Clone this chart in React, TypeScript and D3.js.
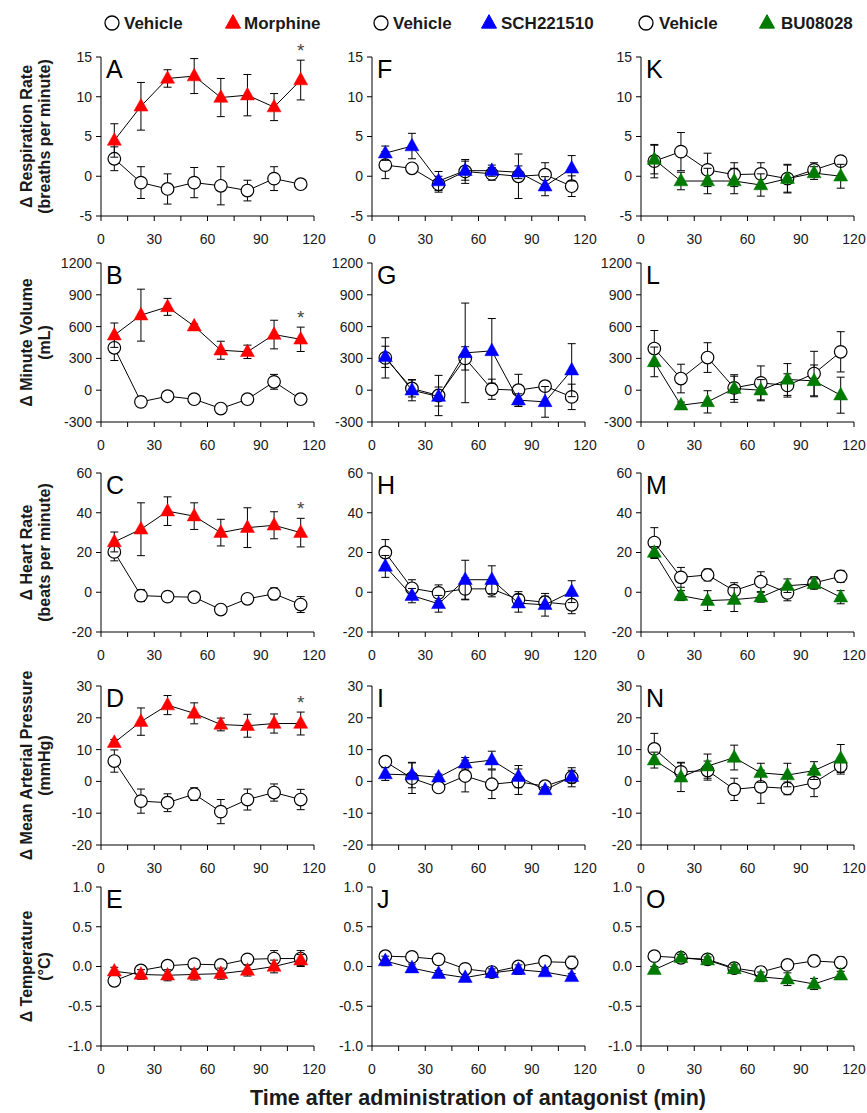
import React from 'react';
import * as d3 from 'd3';

const times = [7.5, 22.5, 37.5, 52.5, 67.5, 82.5, 97.5, 112.5];
const xTickLabels = [0, 30, 60, 90, 120];
const xTickMarks = [0, 15, 30, 45, 60, 75, 90, 105, 120];

// Row 1 – Respiration rate
const vehA = [2.2, -0.8, -1.6, -0.8, -1.2, -1.8, -0.3, -1.0];
const vehAErr = [1.5, 2.0, 1.9, 1.9, 2.4, 1.3, 1.5, 0.3];
const morA = [4.5, 8.8, 12.3, 12.6, 9.9, 10.2, 8.7, 12.1];
const morAErr = [2.1, 3.0, 1.1, 2.2, 2.4, 2.6, 1.7, 2.5];
const vehF = [1.4, 1.0, -1.0, 0.6, 0.3, 0.0, 0.2, -1.25];
const vehFErr = [1.7, 0.3, 1.0, 1.5, 0.8, 2.8, 1.5, 1.3];
const schF = [2.9, 3.8, -0.6, 0.7, 0.7, 0.5, -1.25, 1.0];
const schFErr = [0.9, 1.6, 1.2, 1.2, 0.7, 0.8, 1.2, 1.6];
const vehK = [1.9, 3.1, 0.8, 0.2, 0.3, -0.3, 0.8, 1.9];
const vehKErr = [2.1, 2.4, 2.1, 1.5, 1.4, 1.7, 0.9, 0.3];
const buK = [2.1, -0.6, -0.6, -0.6, -1.1, -0.3, 0.4, 0.0];
const buKErr = [1.8, 1.1, 1.6, 1.6, 1.4, 1.8, 0.8, 1.5];

// Row 2 – Minute volume
const vehB = [400, -110, -57, -85, -173, -85, 79, -85];
const vehBErr = [120, 15, 15, 15, 15, 15, 70, 15];
const morB = [519, 708, 786, 604, 377, 362, 525, 480];
const morBErr = [115, 245, 80, 20, 85, 63, 135, 115];
const vehG = [305, 16, -50, 300, 9, 0, 38, -63];
const vehGErr = [190, 80, 190, 110, 95, 150, 30, 120];
const schG = [315, 0, -60, 352, 371, -94, -110, 189];
const schGErr = [100, 100, 90, 470, 305, 60, 145, 250];
const vehL = [393, 110, 308, 22, 69, 45, 157, 362];
const vehLErr = [170, 135, 140, 110, 160, 110, 210, 190];
const buL = [267, -142, -110, 16, 0, 101, 88, -47];
const buLErr = [140, 30, 105, 130, 100, 150, 150, 170];

// Row 3 – Heart rate
const vehC = [20.3, -1.7, -2.2, -2.5, -8.7, -3.3, -0.8, -6.2];
const vehCErr = [4.5, 3.0, 1.0, 1.0, 1.0, 1.0, 3.0, 4.0];
const morC = [25.3, 31.7, 40.8, 38.3, 30.0, 32.5, 33.7, 30.0];
const morCErr = [5.0, 13.3, 7.2, 6.7, 6.7, 10.0, 6.8, 7.2];
const vehH = [20.0, 2.0, -0.3, 1.7, 1.7, -3.7, -5.0, -6.3];
const vehHErr = [6.5, 4.3, 4.0, 5.5, 4.0, 4.0, 3.0, 4.5];
const schH = [13.0, -1.7, -5.8, 6.3, 6.3, -5.5, -6.3, 0.3];
const schHErr = [5.5, 3.6, 4.2, 9.8, 7.0, 4.5, 5.7, 5.5];
const vehM = [25.0, 7.5, 8.7, 0.8, 5.3, -0.3, 4.7, 8.0];
const vehMErr = [7.5, 5.0, 3.0, 4.0, 5.0, 4.0, 3.0, 3.0];
const buM = [20.0, -1.7, -4.2, -3.7, -2.5, 3.3, 4.2, -2.5];
const buMErr = [3.0, 2.5, 5.0, 6.0, 2.5, 3.4, 2.5, 3.3];

// Row 4 – Mean arterial pressure
const vehD = [6.4, -6.2, -6.7, -4.0, -9.5, -5.7, -3.5, -5.7];
const vehDErr = [3.5, 3.8, 2.8, 2.0, 3.8, 3.3, 2.7, 3.2];
const morD = [12.2, 18.8, 24.0, 21.4, 17.9, 17.5, 18.2, 18.2];
const morDErr = [1.0, 4.3, 3.0, 3.3, 2.0, 3.6, 3.0, 3.6];
const vehI = [6.2, 1.0, -1.9, 1.7, -0.9, -0.1, -1.5, 1.3];
const vehIErr = [1.0, 4.8, 1.0, 5.0, 4.5, 4.0, 1.0, 3.0];
const schI = [2.3, 2.0, 1.3, 5.7, 6.7, 1.5, -2.7, 1.5];
const schIErr = [2.0, 4.0, 1.0, 1.8, 2.8, 3.5, 1.0, 2.0];
const vehN = [10.2, 3.0, 3.4, -2.5, -1.7, -2.2, -0.4, 4.8];
const vehNErr = [4.9, 3.0, 3.0, 3.5, 5.2, 2.0, 4.4, 2.5];
const buN = [6.7, 1.3, 4.8, 7.5, 2.7, 2.0, 3.4, 7.2];
const buNErr = [2.5, 4.5, 3.8, 3.9, 3.0, 3.7, 2.8, 4.4];

// Row 5 – Temperature
const vehE = [-0.18, -0.05, 0.01, 0.03, 0.02, 0.09, 0.1, 0.1];
const vehEErr = [0.06, 0.05, 0.05, 0.05, 0.05, 0.05, 0.1, 0.1];
const morE = [-0.06, -0.1, -0.11, -0.1, -0.09, -0.05, 0.0, 0.08];
const morEErr = [0.05, 0.06, 0.07, 0.07, 0.07, 0.07, 0.08, 0.07];
const vehJ = [0.13, 0.12, 0.09, -0.03, -0.07, 0.0, 0.06, 0.05];
const vehJErr = [0.05, 0.05, 0.05, 0.06, 0.06, 0.06, 0.06, 0.08];
const schJ = [0.07, -0.02, -0.09, -0.14, -0.08, -0.04, -0.07, -0.13];
const schJErr = [0.06, 0.05, 0.04, 0.04, 0.05, 0.06, 0.04, 0.04];
const vehO = [0.13, 0.11, 0.09, -0.02, -0.07, 0.02, 0.07, 0.05];
const vehOErr = [0.04, 0.05, 0.05, 0.06, 0.07, 0.06, 0.07, 0.07];
const buO = [-0.04, 0.11, 0.08, -0.03, -0.13, -0.16, -0.22, -0.11];
const buOErr = [0.04, 0.04, 0.04, 0.05, 0.06, 0.08, 0.07, 0.05];

const rowDomains: [number, number][] = [[-5, 15], [-300, 1200], [-20, 60], [-20, 30], [-1, 1]];
const rowTicks = [
  [-5, 0, 5, 10, 15],
  [-300, 0, 300, 600, 900, 1200],
  [-20, 0, 20, 40, 60],
  [-20, -10, 0, 10, 20, 30],
  [-1, -0.5, 0, 0.5, 1],
];
const rowTickFormat = ['d', 'd', 'd', 'd', '.1f'];
const rowLabels = [
  ['\u0394 Respiration Rate', '(breaths per minute)'],
  ['\u0394 Minute Volume', '(mL)'],
  ['\u0394 Heart Rate', '(beats per minute)'],
  ['\u0394 Mean Arterial Pressure', '(mmHg)'],
  ['\u0394 Temperature', '(\u00B0C)'],
];
const drugNames = ['Morphine', 'SCH221510', 'BU08028'];
const drugColors = ['#ff0000', '#0000ff', '#007a00'];
const letters = [
  ['A', 'F', 'K'],
  ['B', 'G', 'L'],
  ['C', 'H', 'M'],
  ['D', 'I', 'N'],
  ['E', 'J', 'O'],
];
const vehicleData = [
  [vehA, vehF, vehK], [vehB, vehG, vehL], [vehC, vehH, vehM], [vehD, vehI, vehN], [vehE, vehJ, vehO],
];
const vehicleErr = [
  [vehAErr, vehFErr, vehKErr], [vehBErr, vehGErr, vehLErr], [vehCErr, vehHErr, vehMErr], [vehDErr, vehIErr, vehNErr], [vehEErr, vehJErr, vehOErr],
];
const drugData = [
  [morA, schF, buK], [morB, schG, buL], [morC, schH, buM], [morD, schI, buN], [morE, schJ, buO],
];
const drugErr = [
  [morAErr, schFErr, buKErr], [morBErr, schGErr, buLErr], [morCErr, schHErr, buMErr], [morDErr, schIErr, buNErr], [morEErr, schJErr, buOErr],
];
// significance star on last morphine point per row (rows A–D)
const starRows = [true, true, true, true, false];

const W = 867;
const H = 1113;
const rowTop = [57, 263, 473, 686, 887];
const plotH = 159;
const colLeft = [101, 372, 641];
const plotW = 213;
const font = 'Arial, "Liberation Sans", sans-serif';
const textColor = '#1a1a1a';

function triPath(cx: number, cy: number, s: number) {
  const h = s * 0.9;
  return `M${cx},${cy - h * 0.62} L${cx + s / 2},${cy + h * 0.38} L${cx - s / 2},${cy + h * 0.38} Z`;
}

function Panel({ r, c }: { r: number; c: number }) {
  const x = d3.scaleLinear().domain([0, 120]).range([colLeft[c], colLeft[c] + plotW]);
  const y = d3.scaleLinear().domain(rowDomains[r]).range([rowTop[r] + plotH, rowTop[r]]);
  const f = d3.format(rowTickFormat[r]);
  const fmt = (v: number) => f(v).replace('\u2212', '-');
  const line = d3.line<number>().x((_, i) => x(times[i])).y((d) => y(d));
  const veh = vehicleData[r][c];
  const vehE = vehicleErr[r][c];
  const drg = drugData[r][c];
  const drgE = drugErr[r][c];
  const color = drugColors[c];
  const x0 = x(0);
  const yb = y(rowDomains[r][0]);
  const cap = 4;
  const errBars = (vals: number[], errs: number[], key: string) =>
    vals.map((v, i) => {
      const cx = x(times[i]);
      const t = y(v + errs[i]);
      const b = y(v - errs[i]);
      return (
        <g key={key + i} stroke="#000" strokeWidth={1}>
          <line x1={cx} x2={cx} y1={t} y2={b} />
          <line x1={cx - cap} x2={cx + cap} y1={t} y2={t} />
          <line x1={cx - cap} x2={cx + cap} y1={b} y2={b} />
        </g>
      );
    });
  return (
    <g>
      {/* axes */}
      <line x1={x0} x2={x0} y1={rowTop[r]} y2={yb} stroke="#000" strokeWidth={1} />
      <line x1={x0} x2={x(120)} y1={yb} y2={yb} stroke="#000" strokeWidth={1} />
      {rowTicks[r].map((t) => (
        <g key={'yt' + t}>
          <line x1={x0 - 5} x2={x0} y1={y(t)} y2={y(t)} stroke="#000" />
          <text x={x0 - 9} y={y(t)} dy="0.35em" textAnchor="end" fontSize={14} fill={textColor} fontFamily={font}>
            {fmt(t)}
          </text>
        </g>
      ))}
      {xTickMarks.map((t) => (
        <line key={'xm' + t} x1={x(t)} x2={x(t)} y1={yb} y2={yb + 5} stroke="#000" />
      ))}
      {xTickLabels.map((t) => (
        <text key={'xl' + t} x={x(t)} y={yb + 28} textAnchor="middle" fontSize={14} fill={textColor} fontFamily={font}>
          {t}
        </text>
      ))}
      <text x={x0 + 5} y={rowTop[r] + 21} fontSize={25} fill="#000" fontFamily={font}>
        {letters[r][c]}
      </text>
      {/* vehicle */}
      {errBars(veh, vehE, 'v')}
      <path d={line(veh) || ''} fill="none" stroke="#000" strokeWidth={1} />
      {veh.map((v, i) => (
        <circle key={'vc' + i} cx={x(times[i])} cy={y(v)} r={6.3} fill="#fff" stroke="#000" strokeWidth={1.2} />
      ))}
      {/* drug */}
      {errBars(drg, drgE, 'd')}
      <path d={line(drg) || ''} fill="none" stroke="#000" strokeWidth={1} />
      {drg.map((v, i) => (
        <path key={'dt' + i} d={triPath(x(times[i]), y(v), 14)} fill={color} stroke={color} strokeWidth={0.5} />
      ))}
      {c === 0 && starRows[r] && (
        <text
          x={x(times[7])}
          y={y(drg[7] + drgE[7]) - 3}
          textAnchor="middle"
          fontSize={19}
          fill="#444"
          fontFamily={font}
        >
          *
        </text>
      )}
    </g>
  );
}

const legendX = [
  { circle: 112, vtext: 124, tri: 233, dtext: 244 },
  { circle: 381, vtext: 393, tri: 489, dtext: 501 },
  { circle: 646, vtext: 659, tri: 767, dtext: 781 },
];

export default function App() {
  return (
    <svg
      width={W}
      height={H}
      viewBox={`0 0 ${W} ${H}`}
      style={{ position: 'absolute', left: 0, top: 0, background: '#fff' }}
    >
      <rect x={0} y={0} width={W} height={H} fill="#fff" />
      {legendX.map((l, c) => (
        <g key={'lg' + c}>
          <circle cx={l.circle} cy={23} r={7} fill="#fff" stroke="#000" strokeWidth={1.3} />
          <text x={l.vtext} y={29} fontSize={17} fontWeight="bold" fill={textColor} fontFamily={font}>
            Vehicle
          </text>
          <path d={triPath(l.tri, 23, 15)} fill={drugColors[c]} stroke={drugColors[c]} />
          <text x={l.dtext} y={29} fontSize={17} fontWeight="bold" fill={textColor} fontFamily={font}>
            {drugNames[c]}
          </text>
        </g>
      ))}
      {rowLabels.map((lines, r) => {
        const cy = rowTop[r] + plotH / 2;
        return (
          <g key={'yl' + r}>
            <text
              transform={`translate(26,${cy}) rotate(-90)`}
              textAnchor="middle"
              fontSize={16}
              fontWeight="bold"
              fill={textColor}
              fontFamily={font}
              dy="0.35em"
            >
              {lines[0]}
            </text>
            <text
              transform={`translate(44,${cy}) rotate(-90)`}
              textAnchor="middle"
              fontSize={16}
              fontWeight="bold"
              fill={textColor}
              fontFamily={font}
              dy="0.35em"
            >
              {lines[1]}
            </text>
          </g>
        );
      })}
      {[0, 1, 2, 3, 4].map((r) => [0, 1, 2].map((c) => <Panel key={`p${r}${c}`} r={r} c={c} />))}
      <text x={478} y={1105} textAnchor="middle" fontSize={21.5} fontWeight="bold" fill={textColor} fontFamily={font}>
        Time after administration of antagonist (min)
      </text>
    </svg>
  );
}
